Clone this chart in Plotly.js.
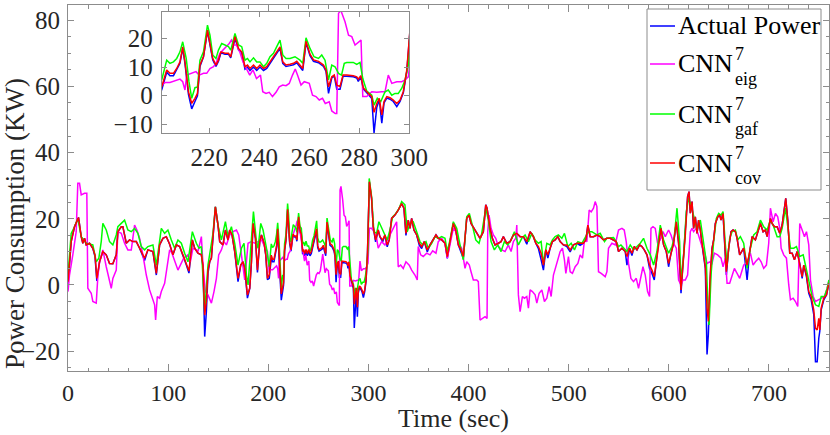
<!DOCTYPE html>
<html><head><meta charset="utf-8">
<script src="https://cdn.plot.ly/plotly-3.0.1.min.js"></script>
<style>html,body{margin:0;padding:0;background:#fff}#chart{width:830px;height:435px}</style>
</head><body><div id="chart"></div>
<script>
// ---- Data (time in sec, power in KW) ----
const tCov = [0,3.2,6.5,10.5,13.2,14.8,16.5,18.2,21.5,24.8,27,28.8,31.5,34.8,38.2,41.5,44.8,48.2,49.8,53.2,
54.8,58.2,61.5,64.8,68.2,71.5,76.5,79.8,84.8,88.2,91.5,94.8,98.2,101.5,104.8,108.2,111.5,114.8,118.2,120.8,
124.2,126.5,129.8,133.2,134.8,136.5,138.2,139.8,141.5,143.2,144.8,147.2,149.8,151.5,154.8,157.2,159.8,161.5,163.8,166.5,
169.8,172.5,174.8,176.5,179.2,181.5,183.2,184.8,187.2,189.2,191.5,193.2,195.8,197.5,199.2,201,203,204.3,205.7,207,
208.3,209.4,210.3,211.7,213,214.3,215.3,216.3,217.7,219.3,220.3,221.4,222.7,223.7,224.7,226.3,227.7,228.6,230.3,231.7,
233,234.3,235.3,236.3,237.7,239,240.3,241.7,243,244.3,245.7,247,248.3,249.4,250.7,252.3,253.7,255,256.3,257.4,
258.7,260.3,261.7,263.7,265.7,266.7,267.7,269,270,271,272.3,273.5,275,277.6,279,279.6,280.6,281.6,283,285,
285.9,287,288,289,289.9,291,292.3,293.6,295,296.3,297.6,299,300,301,303.2,304.8,307.2,309.8,311.5,314.2,
316.5,318.8,320.8,323.2,326.5,329.8,333.2,335.5,337.5,339.8,341.5,343.2,345.5,348.2,350.8,353.2,355.8,358.8,361.5,364.8,
367.5,369.8,373.2,376.5,378.8,381.5,384.8,387.2,389.8,392.5,394.8,398.2,400.5,402.5,406.5,409.2,411.5,414.8,417.2,418.5,
419.8,421.5,423.8,426.5,429.8,432.5,434.8,438.2,441.5,444.8,448.2,451.5,454.8,458.2,461.5,464.8,467.2,469.8,472.5,474.8,
477.2,479.2,481.5,483.8,486.5,489.2,491.5,494.8,498.2,501.5,504.8,508.2,511.5,514.8,517.2,519.2,521.5,524.8,528.2,531.5,
534.8,538.2,541.5,544.8,547.5,549.8,553.2,556.5,558.2,560.8,563.2,565.5,568.2,570.8,573.2,575.5,578.2,580.8,583.2,585.5,
587.5,589.8,592.2,594.8,597.5,599.8,602.2,604.8,607.5,609.8,612.2,614.2,616.5,618.8,620.2,621.5,623.2,624.8,626.5,628.2,
629.8,631.5,633.2,634.8,636.5,638.2,639.5,641.5,643.2,644.8,646.5,649,650.8,652.2,654.2,655.5,657.5,659.8,662.2,664.2,
666.5,668.2,670.8,674.8,678.2,680.8,683.2,686.5,688.8,691.5,694.2,696.5,698.2,701.5,703.2,705.5,708.2,710.8,713.2,715.5,
716.8,718.8,720.8,723.2,725.5,728.2,730.8,733.2,734.8,737.5,739.8,742.2,744.8,746.5,748.2,749.8,750.8,752.2,754.8,757.5,
759.8];

const actual = [0.2,13.1,17.6,20.4,14.6,12.6,14.1,12.1,12.6,11.1,8.5,1.2,7.0,10.1,9.1,6.5,6.4,9.1,16.1,17.6,
17.6,12.6,13.6,13.1,13.1,11.1,7.4,10.6,10.1,3.0,12.1,14.1,14.6,12.3,9.1,12.1,11.6,9.1,6.0,3.6,
13.6,11.1,9.6,9.1,5.5,-15.6,-8.0,3.5,7.0,8.1,14.6,23.6,18.1,13.1,12.1,16.6,13.6,16.6,15.1,10.1,
1.0,6.0,7.0,5.0,-4.0,-1.0,7.0,18.6,14.1,3.8,13.1,15.1,12.6,9.1,1.6,2.0,8.2,7.0,7.0,9.0,
11.3,16.5,11.3,0.5,-4.6,-2.0,0.0,10.2,13.6,22.5,17.5,12.5,10.2,12.0,15.0,14.5,14.5,13.2,20.0,16.0,
15.0,9.3,10.0,8.8,10.0,8.8,10.0,8.8,9.5,11.3,13.2,15.0,16.5,11.3,10.2,10.5,10.8,11.5,10.0,8.8,
18.5,14.0,12.0,11.5,10.2,8.5,0.8,6.2,6.8,2.3,2.3,6.8,6.8,6.6,6.2,5.0,6.6,2.4,1.0,-1.0,
-13.0,-4.0,-1.5,-9.6,-2.5,-0.8,-1.2,-2.0,-3.8,-2.0,1.0,8.5,19.5,31.0,26.0,17.6,13.0,16.6,14.6,13.0,
15.1,11.5,13.6,20.1,21.1,22.6,24.6,23.2,15.0,19.6,17.1,20.1,16.6,15.1,12.0,11.0,13.1,10.0,12.1,13.6,
15.1,14.1,13.6,12.6,8.0,13.1,18.6,16.6,12.1,9.9,8.0,20.1,21.1,18.6,16.6,15.6,14.1,16.1,24.2,23.2,
20.6,17.1,14.1,12.1,12.6,13.1,14.6,12.6,13.1,15.1,15.6,14.6,14.6,12.3,16.1,14.6,12.6,11.0,7.6,4.5,
10.6,8.1,11.1,13.1,13.6,14.6,13.1,12.1,11.6,10.0,12.1,12.6,12.0,12.6,13.6,18.1,14.6,14.6,15.1,14.6,
13.6,14.1,14.1,13.6,13.1,10.1,11.1,10.1,6.0,11.1,8.9,11.6,10.6,12.1,11.6,10.6,9.1,5.0,3.5,1.5,
7.0,13.1,17.1,12.1,10.1,5.5,9.6,12.6,19.1,12.6,-2.5,6.0,15.1,26.7,28.2,21.7,25.2,17.1,20.6,15.6,
19.6,16.6,12.1,9.1,5.0,-21.0,-15.0,2.0,11.1,13.6,18.6,20.6,21.1,19.6,21.6,14.1,3.0,11.1,16.1,16.6,
16.1,14.1,9.1,11.1,1.5,10.1,14.6,13.6,15.6,18.6,16.1,16.6,14.6,20.1,18.6,17.6,17.6,15.6,18.1,23.2,
26.2,19.6,9.6,9.6,7.6,10.1,6.5,2.0,6.0,2.5,-2.5,-4.5,-9.0,-23.2,-23.2,-16.1,-14.0,-7.5,-4.5,-3.0,
0.5];

const cov = [1.0,13.1,17.6,20.4,14.6,12.6,14.1,12.1,12.6,11.1,9.0,2.0,7.0,10.1,9.1,6.5,6.4,9.1,16.1,17.6,
17.6,12.6,13.6,13.1,13.1,11.1,8.1,10.6,10.1,3.5,12.1,14.1,14.6,12.3,9.1,12.1,11.6,9.1,6.0,4.2,
13.6,11.1,9.6,9.1,6.0,-9.1,-5.0,4.5,7.0,8.1,14.6,23.6,18.1,13.1,12.1,16.6,13.6,16.6,15.1,10.1,
2.0,6.0,7.0,5.0,-3.0,-1.0,7.0,18.6,14.1,4.5,13.1,15.1,12.6,9.1,2.0,3.1,9.0,7.8,7.8,9.5,
11.8,17.0,11.8,1.4,-2.7,-0.9,0.8,10.7,13.6,22.9,17.5,13.0,10.7,12.4,15.3,14.8,14.8,13.6,20.6,16.5,
15.3,10.1,10.7,9.5,10.7,9.5,10.7,9.5,10.1,11.8,13.6,15.3,17.0,11.8,10.7,11.0,11.3,12.0,10.7,9.5,
19.0,14.5,12.5,12.0,10.7,9.0,3.1,6.6,7.2,3.7,3.2,7.2,7.2,7.0,6.6,5.8,7.0,2.8,1.4,-0.3,
-5.8,-2.7,-0.9,-6.7,-2.0,-0.3,-0.7,-1.5,-2.7,-1.5,1.4,9.0,20.0,31.2,26.2,17.6,13.6,16.6,14.6,13.6,
15.1,12.1,13.6,20.1,21.1,22.6,24.6,23.2,15.6,19.6,17.1,20.1,16.6,15.1,12.6,11.6,13.1,10.6,12.1,13.6,
15.1,14.1,13.6,12.6,8.6,13.1,18.6,16.6,12.1,10.6,8.6,20.1,21.1,18.6,16.6,15.6,14.1,16.1,24.2,23.2,
20.6,17.1,14.1,12.1,12.6,13.1,14.6,12.6,13.1,15.1,15.6,14.6,14.6,13.1,16.1,14.6,12.6,11.6,9.6,6.0,
10.6,9.1,11.1,13.1,13.6,14.6,13.1,12.1,12.1,10.6,12.1,12.6,12.6,12.6,13.6,18.1,14.6,14.6,15.1,14.6,
13.6,14.1,14.1,13.6,13.1,10.1,11.1,10.1,8.6,11.1,9.6,11.6,10.6,12.1,11.6,10.6,9.1,6.0,4.5,2.5,
7.0,13.1,17.1,12.1,10.1,6.5,9.6,12.6,19.1,12.6,-1.5,6.0,15.1,26.7,28.2,21.7,25.2,17.1,20.6,15.6,
19.6,16.6,12.1,9.1,5.5,-7.0,-11.0,4.0,11.1,13.6,18.6,20.6,21.1,19.6,21.6,14.1,4.0,11.1,16.1,16.6,
16.1,14.1,9.1,11.1,6.0,10.1,14.6,13.6,15.6,18.6,16.1,16.6,14.6,20.1,18.6,17.6,17.6,15.6,18.1,23.2,
26.2,19.6,9.6,9.6,7.6,10.1,6.5,2.5,6.0,3.0,-2.0,-3.5,-7.6,-13.1,-13.6,-10.1,-13.6,-7.0,-4.0,-3.0,
0.5];

const tGaf = [0,3.2,6.5,9.8,13.2,18.2,24.8,28.2,30.8,33.2,34.8,38.2,41.5,44.8,48.2,49.8,53.2,56.5,59.8,63.2,
66.5,69.8,73.2,76.5,79.8,84.8,88.2,93.2,96.5,99.8,103.2,106.5,109.8,113.2,116.5,119.8,124.2,128.2,130.8,133.2,
136.5,139.8,144.8,147.2,149.8,153.2,157.2,159.8,163.2,166.5,169.8,173.2,175.8,178.2,179.8,182.5,185.2,188.2,189.8,192.5,
194.8,198.2,201,203,204.3,205.7,207,208.3,209.4,210.8,211.9,213,214.3,215.3,216.3,217.7,219.3,220.3,221.4,222.7,
223.7,225,226.3,227.7,228.6,230.3,231.7,233,234.3,235.3,236.3,237.7,239,240.3,241.7,243,244.3,245.7,247,248.3,
249.4,250.7,252.3,254.3,256.3,257.4,258.7,260.3,261.9,263.7,265,266.3,267.7,269,270.3,271.7,272.9,274,275,277.6,
279,280.3,281.4,283,285,285.9,287.2,288.6,290.3,291.6,293,294.3,295.6,297,298.3,299.6,300.8,303.2,305.5,308.2,
310.5,313.2,316.5,318.8,321.5,324.2,327.5,330.8,333.2,336.5,338.8,341.5,344.8,348.2,351.5,354.2,357.5,359.8,363.2,366.5,
369.8,373.2,376.5,378.8,381.5,384.8,388.2,391.5,394.8,398.2,400.8,403.8,407.2,410.5,413.2,417.2,419.8,422.5,425.8,429.2,
432.5,435.8,439.2,442.5,445.8,449.8,453.2,456.5,459.8,463.2,466.5,469.8,472.5,474.8,478.2,481.5,483.8,486.5,489.8,493.2,
495.8,499.2,502.5,505.8,509.2,513.2,517.2,519.8,523.2,528.2,531.5,535.8,538.2,541.5,544.8,547.5,549.8,552.2,554.8,558.2,
561.5,564.8,568.2,571.5,574.8,578.2,581.5,584.8,588.2,591.5,594.8,597.5,599.8,603.2,605.5,608.2,610.8,612.2,614.8,617.5,
619.8,622.2,624.8,628.2,631.5,634.8,637.5,638.8,640.2,642.2,644.8,647.5,649.8,652.2,654.2,656.5,658.2,660.8,663.2,666.5,
668.8,671.5,674.8,678.2,681.5,684.8,688.2,691.5,694.8,698.2,701.5,704.8,708.2,710.8,713.2,716.5,718.8,721.5,724.8,727.5,
730.8,734.2,736.5,739.8,743.2,746.5,749.8,752.2,755.5,758.2,760];

const gaf = [3.0,15.6,17.6,20.1,14.6,12.6,12.1,7.0,8.1,13.1,18.6,16.6,13.1,12.1,15.1,17.6,18.6,19.6,16.6,16.1,
17.1,15.6,11.6,10.6,11.6,12.1,6.0,17.1,15.6,16.6,13.6,11.1,13.6,12.6,9.6,7.0,16.1,12.6,11.1,11.6,
-8.1,6.0,15.6,23.6,18.1,13.6,19.1,14.6,17.6,12.6,6.0,11.1,12.6,3.0,0.0,10.1,22.2,13.1,11.1,18.6,
16.6,11.1,5.5,12.4,11.3,11.8,13.0,15.3,18.8,13.0,4.9,-0.9,2.8,3.1,12.4,15.3,24.6,21.1,14.2,13.0,
15.9,18.2,17.7,17.1,15.9,21.7,17.7,17.1,12.4,13.0,11.8,13.2,11.8,11.8,10.1,11.3,13.6,14.8,17.1,19.4,
14.2,13.0,13.0,13.6,12.4,11.3,20.2,16.5,13.6,13.0,14.2,12.4,5.5,10.7,10.1,7.8,7.2,11.3,11.6,11.6,
10.9,11.6,6.0,1.6,0.2,-3.3,-0.9,-2.0,1.4,2.0,0.2,0.8,0.8,2.6,5.5,10.7,32.2,26.7,16.1,15.6,
19.1,17.1,15.1,13.6,16.6,20.6,21.6,23.2,25.2,24.2,16.1,18.6,19.1,16.1,13.1,12.1,13.1,11.1,12.6,14.6,
14.1,14.6,14.1,10.1,13.6,19.1,17.1,12.1,7.6,20.6,21.6,18.1,13.6,12.6,15.6,23.2,19.6,13.1,10.6,12.1,
10.1,13.1,12.1,13.6,16.1,12.1,14.1,15.1,13.1,15.6,13.6,12.6,13.1,6.5,12.6,12.1,13.6,14.6,15.1,14.1,
15.6,11.6,12.6,10.6,13.1,12.6,14.6,16.1,16.1,15.1,15.6,13.1,14.1,14.1,14.3,13.1,11.6,12.1,11.1,10.1,
12.1,10.6,11.6,12.6,14.1,11.1,9.1,6.0,10.1,18.1,13.6,11.6,9.6,11.6,14.6,23.2,13.1,1.0,9.1,22.2,
26.2,24.2,21.1,16.6,19.6,12.1,7.0,-4.0,-12.1,3.0,13.1,20.1,21.6,21.1,22.2,12.1,6.0,14.1,16.1,16.6,
13.6,14.6,12.6,5.0,11.1,15.1,16.1,19.6,17.6,16.6,19.6,17.6,14.6,14.6,17.1,23.2,17.1,11.1,11.1,11.6,
8.6,9.1,6.0,1.0,-3.5,-6.0,-6.5,-3.5,-3.5,-1.0,1.5];

const tEig = [0,1.5,4.8,8.2,9.8,11.5,13.2,16.5,18.8,19.8,23.2,24.8,28.2,29.8,31.5,34.8,38.2,41.5,43.2,44.8,
48.2,49.8,53.2,56.5,59.8,63.2,66.5,68.8,71.5,74.8,78.2,81.5,84.2,86.5,87.5,89.2,91.5,93.2,96.5,98.8,
101.5,103.8,106.5,109.8,112.2,115.5,119.8,122.2,124.8,128.2,129.8,133.2,134.8,137.2,139.8,143.2,145.8,148.2,150.5,153.2,
155.8,158.2,161.5,164.8,168.2,170.5,173.2,176.5,178.2,179.8,183.2,186.5,189.8,193.2,196.5,199.2,201,202.3,204.3,206.3,
208.3,209.4,210.3,211,213,214.7,216,217.7,219,220.3,221.7,222.7,224.3,226.3,228,228.9,229.9,230.9,232.2,233.5,
234.9,236.2,237.5,238.9,240.5,241.4,242.7,244,245.3,246.7,248,249.4,250.7,252,253.3,254.4,255.3,256.7,258,260,
261.3,262.7,264,265.3,266.4,268,269,270.4,271,271.7,272.6,274.3,275.7,277,278.3,279.6,280.7,281.4,283,285,
287,289,290.3,291.6,293,295,297,298.3,299.6,301,303.2,305.5,308.2,309.8,313.2,316.5,319.8,321.5,324.8,328.2,
329.8,332.2,334.8,337.5,340.8,343.2,346.5,348.8,349.8,352.2,354.8,358.2,361.5,364.2,367.5,369.8,373.2,376.5,378.8,381.5,
384.8,387.5,389.8,393.2,396.5,398.2,400.8,402.5,404.8,408.2,409.8,411.5,413.8,416.5,418.5,419.2,420.5,422.5,424.8,427.2,
429.8,433.2,436.5,439.8,442.5,444.8,447.2,448.2,449.8,451.5,453.8,455.8,458.2,459.8,461.5,463.8,466.5,468.2,470.5,473.2,
475.8,478.2,480.5,482.5,484.8,488.2,491.5,493.8,495.8,497.2,499.8,501.5,503.8,506.5,509.2,511.5,513.8,515.8,518.2,520.5,
522.5,524.8,526.5,528.2,529.8,532.5,536.5,538.2,539.8,543.2,546.5,549.8,553.2,555.5,557.5,559.8,562.2,564.8,567.5,569.8,
571.5,574.2,576.5,578.8,580.8,582.2,584.2,586.5,588.8,591.5,594.2,596.5,599.8,602.2,604.8,607.5,609.8,612.2,614.2,616.5,
618.8,621.5,623.2,624.8,627.5,629.8,633.2,635.5,638.2,640.8,643.2,645.5,648.8,652.2,654.2,656.5,658.2,660.8,663.2,665.5,
668.2,670.8,674.8,678.2,681.5,684.2,686.5,689.8,692.2,694.8,697.5,699.8,701.5,704.2,706.5,708.8,710.8,712.2,714.8,717.5,
719.8,721.5,724.2,726.5,728.8,730.8,733.2,735.5,737.5,739.8,741.5,744.2,746.5,749.8,752.2,755.5,758.2,760];

const eig = [-2.0,3.0,9.1,16.1,30.7,30.7,27.2,27.7,27.7,-1.0,-2.5,-5.0,-5.5,2.5,7.0,10.6,5.5,1.0,-1.0,2.0,
4.5,16.1,15.6,12.6,10.6,10.6,18.1,16.6,14.1,9.1,3.0,-1.5,-4.0,-6.0,-10.6,-3.5,-4.0,-2.0,0.5,5.0,
10.6,9.6,7.0,4.5,6.0,8.1,9.1,7.0,11.1,10.6,10.1,14.6,6.0,-2.0,-3.0,-5.5,-2.0,2.0,9.1,10.6,
13.1,12.1,15.1,16.1,16.6,15.1,9.1,1.5,7.0,12.6,13.1,12.6,13.1,13.6,11.6,10.1,3.7,4.6,4.6,5.1,
5.8,4.9,2.0,7.2,7.8,8.4,7.2,7.8,7.8,9.5,10.1,11.3,14.8,16.5,18.2,19.4,17.7,17.7,15.3,11.8,
9.5,7.2,9.0,6.0,7.2,1.4,0.8,1.2,-0.3,1.2,3.1,3.7,3.5,4.3,7.2,9.3,7.2,3.7,4.9,4.3,
0.2,-0.3,-1.5,-0.9,-2.7,-2.1,-5.3,-6.2,-6.2,28.7,29.8,25.8,21.1,20.6,17.7,18.5,19.4,-0.3,-0.3,1.4,
1.2,1.4,1.4,7.2,4.3,4.9,4.9,5.5,6.6,17.1,17.1,16.1,14.1,11.1,13.1,12.1,14.1,15.6,17.1,19.1,
5.5,6.0,5.0,7.0,6.0,4.5,3.0,1.5,11.6,9.1,8.6,9.6,9.1,10.3,9.6,13.1,14.1,12.6,8.1,12.1,
17.1,16.1,12.6,11.1,5.0,7.0,6.0,4.0,1.5,1.5,1.0,-10.6,-10.1,-9.6,-10.1,16.1,21.1,17.1,15.1,14.1,
11.6,10.6,10.1,12.1,10.1,13.1,14.1,18.1,-3.0,-8.1,-3.5,-4.0,-3.5,-7.0,-1.5,-2.0,-3.0,-5.5,-2.5,-1.5,
-5.0,-4.0,-0.5,-3.5,3.0,7.0,10.1,11.1,7.6,3.5,8.6,4.0,3.5,5.5,6.5,9.1,8.1,13.6,13.1,22.6,
22.1,23.2,25.2,23.7,4.0,3.5,2.5,4.0,11.1,12.6,12.1,16.6,17.1,16.6,13.1,6.5,2.0,1.0,2.0,-1.0,
1.5,5.5,3.0,-2.0,-3.5,17.1,17.6,17.1,12.6,13.6,16.1,14.6,16.6,15.1,12.6,11.1,1.5,0.0,1.5,1.5,
3.0,16.1,17.1,16.1,17.1,14.6,11.6,10.1,6.5,7.0,6.5,9.6,9.1,8.1,5.5,8.1,0.5,0.5,3.0,5.0,
3.5,2.0,6.0,7.0,9.6,6.0,7.0,8.1,7.0,5.0,6.0,12.6,23.2,19.1,21.6,20.6,17.1,11.1,9.1,8.1,
0.0,-4.5,-4.0,-5.0,-6.5,18.6,16.6,14.6,16.1,12.1,1.5,-3.5,-5.0,-4.5,-4.0,-3.5,-1.0,1.5];

const seriesNames = ['Actual Power', 'CNN eig', 'CNN gaf', 'CNN cov'];
const seriesColors = ['#0000ff', '#ff00ff', '#00ff00', '#ff0000'];
const legendSub = ['eig', 'gaf', 'cov'];

// ---- Layout helpers (pixel -> paper) ----
const W = 830, H = 435, ML = 68, MR = 1, MT = 5, MB = 64;
const PW = W - ML - MR, PH = H - MT - MB;
const px = x => (x - ML) / PW;
const py = y => (H - MB - y) / PH;
const FONT = 'Liberation Serif, Times New Roman, serif';
const AX = '#8c8c8c', TXT = '#262626';

const xs = [tCov, tEig, tGaf, tCov];
const ys = [actual, eig, gaf, cov];
const data = [];
['x', 'x2'].forEach((xa, k) => {
  for (let i = 0; i < 4; i++) {
    data.push({
      type: 'scatter', mode: 'lines', x: xs[i], y: ys[i], name: seriesNames[i],
      line: {color: seriesColors[i], width: 1.5},
      xaxis: xa, yaxis: k ? 'y2' : 'y', showlegend: false, hoverinfo: 'skip'
    });
  }
});

const axBase = {
  ticks: 'inside', tickcolor: AX, showline: true, linecolor: AX, linewidth: 1,
  mirror: 'allticks', showgrid: false, zeroline: false,
  tickfont: {family: FONT, size: 25, color: TXT}
};

const shapes = [
  {type: 'rect', xref: 'paper', yref: 'paper', x0: px(647), x1: px(821), y0: py(190), y1: py(9),
   fillcolor: '#ffffff', line: {color: AX, width: 1}, layer: 'above'}
];
const legendRows = [26, 64, 114, 163];
const annotations = [];
legendRows.forEach((ly, i) => {
  shapes.push({type: 'line', xref: 'paper', yref: 'paper', x0: px(650), x1: px(675), y0: py(ly), y1: py(ly),
    line: {color: seriesColors[i], width: 1.5}, layer: 'above'});
});
function legText(x, y, text, size) {
  annotations.push({xref: 'paper', yref: 'paper', x: px(x), y: py(y), xanchor: 'left', yanchor: 'middle',
    text: text, showarrow: false, borderpad: 0, font: {family: FONT, size: size, color: '#000'}});
}
legText(677, legendRows[0], 'Actual Power', 26);
for (let i = 1; i < 4; i++) {
  const ly = legendRows[i];
  legText(677, ly, 'CNN', 26);
  legText(734, ly - 10, '7', 18);
  legText(734, ly + 15, legendSub[i - 1], 18);
}
// axis titles
annotations.push({xref: 'paper', yref: 'paper', x: px(15), y: py(224), xanchor: 'center', yanchor: 'middle',
  textangle: -90, text: 'Power Consumption (KW)', showarrow: false, borderpad: 0,
  font: {family: FONT, size: 27, color: TXT}});
annotations.push({xref: 'paper', yref: 'paper', x: px(453), y: py(434.5), xanchor: 'center', yanchor: 'bottom',
  text: 'Time (sec)', showarrow: false, borderpad: 0, font: {family: FONT, size: 26, color: TXT}});

const layout = {
  width: W, height: H, margin: {l: ML, r: MR, t: MT, b: MB},
  paper_bgcolor: '#ffffff', plot_bgcolor: '#ffffff', showlegend: false,
  xaxis: Object.assign({}, axBase, {
    domain: [0, 1], range: [0, 760], dtick: 100, tick0: 0, ticklen: 7, anchor: 'y',
    ticklabelstandoff: 0, tickfont: {family: FONT, size: 24, color: TXT},
    minor: {dtick: 20, tick0: 0, ticks: 'inside', ticklen: 3.5, tickcolor: AX, showgrid: false}
  }),
  yaxis: Object.assign({}, axBase, {
    domain: [0, 1], range: [-26, 84.6], dtick: 20, tick0: 0, ticklen: 6, anchor: 'x',
    ticklabelstandoff: 2,
    minor: {dtick: 5, tick0: 0, ticks: 'inside', ticklen: 3, tickcolor: AX, showgrid: false}
  }),
  xaxis2: Object.assign({}, axBase, {
    domain: [px(161.7), px(409.3)], range: [201, 300], dtick: 20, tick0: 0, ticklen: 5, anchor: 'y2',
    ticklabelstandoff: 2
  }),
  yaxis2: Object.assign({}, axBase, {
    domain: [py(133.3), py(11.7)], range: [-13.1, 29.3], dtick: 10, tick0: 0, ticklen: 5, anchor: 'x2',
    ticklabelstandoff: 3
  }),
  shapes: shapes,
  annotations: annotations
};

Plotly.newPlot('chart', data, layout, {staticPlot: true, displayModeBar: false});
</script>
</body></html>
